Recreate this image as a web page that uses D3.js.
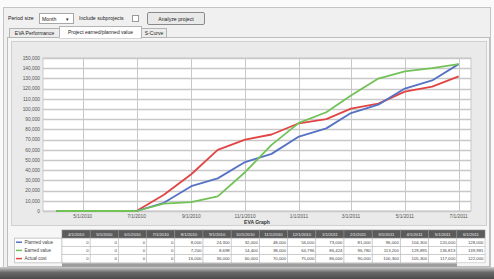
<!DOCTYPE html>
<html>
<head>
<meta charset="utf-8">
<script src="https://cdn.jsdelivr.net/npm/d3@7"></script>
<style>
body { margin:0; background:#fafafa; }
svg text { font-family: "Liberation Sans", "DejaVu Sans", sans-serif; }
</style>
</head>
<body>
<div id="chart"></div>
<script>
// monthly data points (4/1/2010 .. 7/1/2011)
let months = ["4/1/2010","5/1/2010","6/1/2010","7/1/2010","8/1/2010","9/1/2010","10/1/2010","11/1/2010",
              "12/1/2010","1/1/2011","2/1/2011","3/1/2011","4/1/2011","5/1/2011","6/1/2011","7/1/2011"];
let plannedValue = [0,0,0,0,8000,24300,32000,48000,56000,73000,81000,96000,104300,120000,128000,144000];
let earnedValue  = [0,0,0,0,7200,8698,14400,38000,64796,86424,96780,113200,129895,136813,139981,144000];
let actualCost   = [0,0,0,0,16000,36000,60000,70000,75000,86000,90000,100300,105300,117000,122000,132000];

let seriesNames = ["Planned value","Earned value","Actual cost"];
let seriesColors = ["#5572c4","#72c257","#e24444"];
let xTickLabels = ["5/1/2010","7/1/2010","9/1/2010","11/1/2010","1/1/2011","3/1/2011","5/1/2011","7/1/2011"];
let yTicks = [0,10000,20000,30000,40000,50000,60000,70000,80000,90000,100000,110000,120000,130000,140000,150000];
// table shows only first 15 months (scrolled)
let tableCols = 15;

let width = 494, height = 279;
let plot = {left:43, right:471, top:58, bottom:211};

let parse = d3.timeParse("%m/%d/%Y");
let fmt = d3.format(",");

let svg = d3.select("#chart").append("svg")
    .attr("width", width)
    .attr("height", height)

let defs = svg.append("defs")
let grad = defs.append("linearGradient").attr("id","shadow").attr("x1",0).attr("x2",0).attr("y1",0).attr("y2",1)
grad.append("stop").attr("offset","0%").attr("stop-color","#cfcfcf")
grad.append("stop").attr("offset","45%").attr("stop-color","#6a6a6a")
grad.append("stop").attr("offset","100%").attr("stop-color","#4a4a4a")

svg.append("rect").attr("x",0).attr("y",0).attr("width",width).attr("height",height).attr("fill","#fafafa")
svg.append("rect").attr("x",0).attr("y",267).attr("width",width).attr("height",12).attr("fill","url(#shadow)")

// window
svg.append("rect").attr("x",3.5).attr("y",7.5).attr("width",487).attr("height",260)
    .attr("fill","#f0f0f0").attr("stroke","#c4c4c4")

// toolbar
let tb = svg.append("g").attr("font-size",5.2).attr("fill","#222")
tb.append("text").attr("x",8).attr("y",20).text("Period size")
tb.append("rect").attr("x",39.5).attr("y",13.5).attr("width",34).attr("height",10).attr("fill","#fff").attr("stroke","#a8a8a8")
tb.append("text").attr("x",42).attr("y",20.5).text("Month")
tb.append("text").attr("x",66).attr("y",20.5).attr("font-size",5).text("▾")
tb.append("text").attr("x",79).attr("y",20).text("Include subprojects")
tb.append("rect").attr("x",132.5).attr("y",15.5).attr("width",6).attr("height",6).attr("fill","#fff").attr("stroke","#999")
tb.append("rect").attr("x",147.5).attr("y",12.5).attr("width",57).attr("height",12).attr("rx",1.5)
    .attr("fill","#e9e9e9").attr("stroke","#8a8a8a")
tb.append("text").attr("x",176).attr("y",20.5).attr("text-anchor","middle").text("Analyze project")

// tab panel
svg.append("rect").attr("x",7.5).attr("y",37.5).attr("width",482).attr("height",229)
    .attr("fill","#f6f6f6").attr("stroke","#bdbdbd")
let tabs = [
    {label:"EVA Performance", x:9, w:50, sel:false},
    {label:"Project earned/planned value", x:59, w:82, sel:true},
    {label:"S-Curve", x:141, w:25, sel:false}
]
tabs.forEach(function(t){
    svg.append("rect").attr("x",t.x+0.5).attr("y",t.sel?26.5:28.5).attr("width",t.w).attr("height",t.sel?11.5:9)
        .attr("fill",t.sel?"#ffffff":"#ececec").attr("stroke","#b4b4b4")
    svg.append("text").attr("x",t.x+t.w/2+0.5).attr("y",t.sel?34:35).attr("text-anchor","middle")
        .attr("font-size",5).attr("fill","#222").text(t.label)
})
svg.append("line").attr("x1",59.5).attr("x2",140.5).attr("y1",37.5).attr("y2",37.5).attr("stroke","#fff")

// chart background
svg.append("rect").attr("x",11.5).attr("y",41.5).attr("width",475).attr("height",184)
    .attr("fill","#e9eae9").attr("stroke","#d0d0d0")

let xScale = d3.scaleTime()
    .domain([parse("3/17/2010"), parse("7/15/2011")])
    .range([plot.left, plot.right])

let yScale = d3.scaleLinear()
    .domain([0,150000])
    .range([plot.bottom, plot.top])

let chart = svg.append("g")

chart.append("rect").attr("x",plot.left).attr("y",plot.top)
    .attr("width",plot.right-plot.left).attr("height",plot.bottom-plot.top)
    .attr("fill","#fff").attr("stroke","#c9c9c9")

// horizontal grid
chart.selectAll(".hgrid")
    .data(yTicks)
    .enter().append("line")
    .attr("class","hgrid")
    .attr("x1",plot.left).attr("x2",plot.right)
    .attr("y1",function(d){return Math.round(yScale(d))+0.5})
    .attr("y2",function(d){return Math.round(yScale(d))+0.5})
    .attr("stroke","#c8c8c8").attr("stroke-width",1.3)

// vertical grid
chart.selectAll(".vgrid")
    .data(xTickLabels)
    .enter().append("line")
    .attr("class","vgrid")
    .attr("x1",function(d){return Math.round(xScale(parse(d)))+0.5})
    .attr("x2",function(d){return Math.round(xScale(parse(d)))+0.5})
    .attr("y1",plot.top).attr("y2",plot.bottom)
    .attr("stroke","#c8c8c8").attr("stroke-width",1)

// y axis labels
chart.selectAll(".ylab")
    .data(yTicks)
    .enter().append("text")
    .attr("x",40)
    .attr("y",function(d){return yScale(d)+1.8})
    .attr("text-anchor","end")
    .attr("font-size",4.8)
    .attr("fill","#555")
    .text(function(d){return fmt(d)})

// x axis labels
chart.selectAll(".xlab")
    .data(xTickLabels)
    .enter().append("text")
    .attr("x",function(d){return xScale(parse(d))})
    .attr("y",218)
    .attr("text-anchor","middle")
    .attr("font-size",4.8)
    .attr("fill","#555")
    .text(function(d){return d})

chart.append("text").attr("x",(plot.left+plot.right)/2).attr("y",223.5)
    .attr("text-anchor","middle").attr("font-size",5).attr("font-weight","bold").attr("fill","#333")
    .text("EVA Graph")

let allSeries = [plannedValue, earnedValue, actualCost]
let line = d3.line()
    .x(function(d,i){return xScale(parse(months[i]))})
    .y(function(d){return yScale(d)})

// draw actual cost first so planned/earned sit on top at the end
;[2,0,1].forEach(function(k){
    chart.append("path")
        .attr("d", line(allSeries[k]))
        .attr("fill","none")
        .attr("stroke",seriesColors[k])
        .attr("stroke-width",1.8)
        .attr("stroke-linejoin","round")
})

// data table
let table = svg.append("g")
let colX = d3.scaleBand().domain(months.slice(0,tableCols)).range([62,485])
let rowTop = 230, rowH = 8.2

table.append("rect").attr("x",14.5).attr("y",rowTop+rowH).attr("width",47.5).attr("height",rowH*3)
    .attr("fill","#fff").attr("stroke","#c8c8c8")

table.selectAll(".head")
    .data(months.slice(0,tableCols))
    .enter().append("rect")
    .attr("x",function(d){return colX(d)})
    .attr("y",rowTop)
    .attr("width",colX.bandwidth())
    .attr("height",rowH)
    .attr("fill","#5b5b5b")
    .attr("stroke","#8a8a8a").attr("stroke-width",0.6)

table.selectAll(".headtext")
    .data(months.slice(0,tableCols))
    .enter().append("text")
    .attr("x",function(d){return colX(d)+colX.bandwidth()/2})
    .attr("y",rowTop+5.6)
    .attr("text-anchor","middle")
    .attr("font-size",4.2)
    .attr("fill","#eee")
    .text(function(d){return d})

allSeries.forEach(function(vals,k){
    let y0 = rowTop + rowH*(k+1)
    table.selectAll(".cell"+k)
        .data(months.slice(0,tableCols))
        .enter().append("rect")
        .attr("x",function(d){return colX(d)})
        .attr("y",y0)
        .attr("width",colX.bandwidth())
        .attr("height",rowH)
        .attr("fill","#fff")
        .attr("stroke","#bdbdbd").attr("stroke-width",0.6)
    table.selectAll(".val"+k)
        .data(vals.slice(0,tableCols))
        .enter().append("text")
        .attr("x",function(d,i){return colX(months[i])+colX.bandwidth()-1.5})
        .attr("y",y0+5.6)
        .attr("text-anchor","end")
        .attr("font-size",4.3)
        .attr("fill","#444")
        .text(function(d){return fmt(d)})
    table.append("line")
        .attr("x1",16).attr("x2",22).attr("y1",y0+4).attr("y2",y0+4)
        .attr("stroke",seriesColors[k]).attr("stroke-width",1.5)
    table.append("text").attr("x",24.5).attr("y",y0+5.6)
        .attr("font-size",4.5).attr("fill","#444").text(seriesNames[k])
})

// scrollbar under the table
table.append("rect").attr("x",62).attr("y",rowTop+rowH*4+0.5).attr("width",395).attr("height",3.5)
    .attr("fill","#9c9c9c")
</script>
</body>
</html>
